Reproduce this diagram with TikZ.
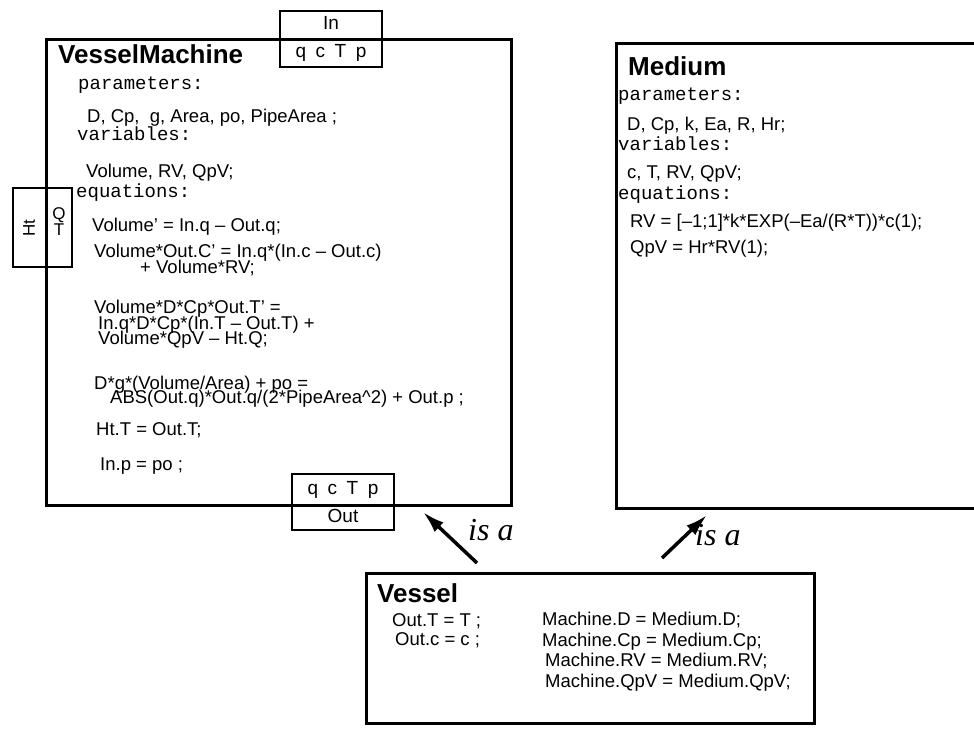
\documentclass[tikz,border=0pt]{standalone}
\usepackage{fontspec}
\setmainfont{Liberation Serif}
\setsansfont{Liberation Sans}
\setmonofont{Liberation Mono}
\usetikzlibrary{positioning,arrows.meta}

\begin{document}
\begin{tikzpicture}[
    x=1pt, y=-1pt,
    classbox/.style={draw,line width=3pt,anchor=north west,inner sep=0pt},
    port/.style={draw,fill=white,line width=2pt,inner sep=0pt,align=center,font=\sffamily\fontsize{19}{28}\selectfont},
    title/.style={anchor=base west,inner sep=0pt,font=\sffamily\bfseries\fontsize{26}{30}\selectfont},
    kw/.style={anchor=base west,inner sep=0pt,font=\ttfamily\fontsize{19}{22}\selectfont},
    eqn/.style={anchor=base west,inner sep=0pt,font=\sffamily\fontsize{18.5}{22}\selectfont},
    isa/.style={-{Latex[length=22pt,width=13pt]},line width=3.5pt},
    isalabel/.style={anchor=base west,inner sep=0pt,font=\itshape\fontsize{32}{36}\selectfont},
]
\useasboundingbox (0,0) rectangle (974,729);

% ===== Ports =====
\node[port,minimum width=102pt,minimum height=56pt] (inport) at (331,39) {In\\q\hspace{0.5em}c\hspace{0.5em}T\hspace{0.5em}p};
\node[port,minimum width=102pt,minimum height=56pt] (outport) at (343,502) {q\hspace{0.5em}c\hspace{0.5em}T\hspace{0.5em}p\\Out};
\node[port,minimum width=59pt,minimum height=79pt] (htport) at (42.5,227.5) {};
\node[rotate=90,inner sep=0pt,font=\sffamily\fontsize{17}{20}\selectfont] (htname) at (29,228) {Ht};
\node[inner sep=0pt,align=center,font=\sffamily\fontsize{17}{16}\selectfont] (htvars) at (59,222) {Q\\T};

% ===== Class boxes =====
\node[classbox,minimum width=465pt,minimum height=466pt] (machine) at (45,38) {};
\node[classbox,minimum width=400pt,minimum height=465pt] (medium) at (615,42) {};
\node[classbox,minimum width=448pt,minimum height=150pt] (vessel) at (365,572) {};

% ===== VesselMachine =====
\node[title] (vmtitle) at (58,63) {VesselMachine};
\node[kw] (vmpar) at (78,89) {parameters:};
\node[eqn] (vmparlist) at (87,122) {D, Cp,\ \ g, Area, po, PipeArea ;};
\node[kw] (vmvar) at (77,140) {variables:};
\node[eqn] (vmvarlist) at (86,177) {Volume, RV, QpV;};
\node[kw] (vmeq) at (76,197) {equations:};
\node[eqn] (vmeqa) at (92,231) {Volume' = In.q -- Out.q;};
\node[eqn] (vmeqb) at (94,257) {Volume*Out.C' = In.q*(In.c -- Out.c)};
\node[eqn] (vmeqc) at (140,273) {+ Volume*RV;};
\node[eqn] (vmeqd) at (94,313) {Volume*D*Cp*Out.T' =};
\node[eqn] (vmeqe) at (98,329) {In.q*D*Cp*(In.T -- Out.T) +};
\node[eqn] (vmeqf) at (98,344) {Volume*QpV -- Ht.Q;};
\node[eqn] (vmeqg) at (94,389) {D*g*(Volume/Area) + po =};
\node[eqn] (vmeqh) at (110,403) {ABS(Out.q)*Out.q/(2*PipeArea\textasciicircum2) + Out.p ;};
\node[eqn] (vmeqi) at (96,435) {Ht.T = Out.T;};
\node[eqn] (vmeqj) at (100,470) {In.p = po ;};

% ===== Medium =====
\node[title] (mdtitle) at (628,75) {Medium};
\node[kw] (mdpar) at (618,100) {parameters:};
\node[eqn] (mdparlist) at (627,130) {D, Cp, k, Ea, R, Hr;};
\node[kw] (mdvar) at (618,150) {variables:};
\node[eqn] (mdvarlist) at (627,178) {c, T, RV, QpV;};
\node[kw] (mdeq) at (618,199) {equations:};
\node[eqn] (mdeqa) at (630,227) {RV = [--1;1]*k*EXP(--Ea/(R*T))*c(1);};
\node[eqn] (mdeqb) at (630,253) {QpV = Hr*RV(1);};

% ===== Vessel =====
\node[title] (vstitle) at (377,602) {Vessel};
\node[eqn] (vsouta) at (392,626) {Out.T = T ;};
\node[eqn] (vsoutb) at (395,645) {Out.c = c ;};
\node[eqn] (vsbinda) at (542,625) {Machine.D = Medium.D;};
\node[eqn] (vsbindb) at (542,646) {Machine.Cp = Medium.Cp;};
\node[eqn] (vsbindc) at (545,666) {Machine.RV = Medium.RV;};
\node[eqn] (vsbindd) at (545,687) {Machine.QpV = Medium.QpV;};

% ===== is a =====
\coordinate (isafrom) at (477,563);
\coordinate (isato) at (423,512);
\coordinate (isbfrom) at (662,558);
\coordinate (isbto) at (707,515);
\draw[isa] (isafrom) -- (isato);
\draw[isa] (isbfrom) -- (isbto);
\node[isalabel] (isatext) at (468,540) {is a};
\node[isalabel] (isbtext) at (695,545) {is a};

\end{tikzpicture}
\end{document}
